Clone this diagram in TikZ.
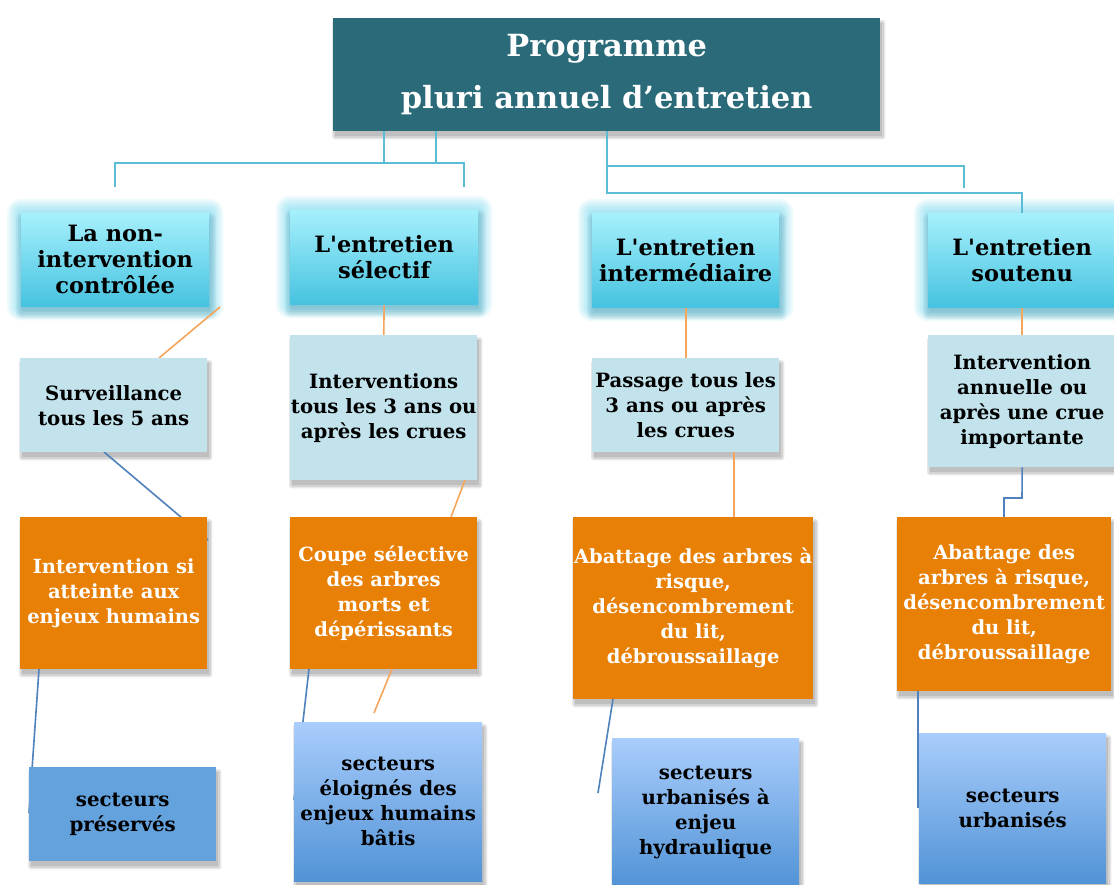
\documentclass[tikz,border=0pt]{standalone}
\usepackage{fontspec}
\setmainfont{DejaVu Serif}[Ligatures=TeXOff]

\definecolor{titleteal}{RGB}{42,106,121}
\definecolor{treeblue}{RGB}{91,188,214}
\definecolor{cyantop}{RGB}{166,240,252}
\definecolor{cyanbot}{RGB}{70,195,224}
\definecolor{glowcyan}{RGB}{110,215,240}
\definecolor{glowshade}{RGB}{60,140,160}
\definecolor{paleblue}{RGB}{194,227,236}
\definecolor{workorange}{RGB}{233,128,6}
\definecolor{linkorange}{RGB}{246,165,92}
\definecolor{linkblue}{RGB}{79,129,189}
\definecolor{zoneflat}{RGB}{100,162,221}
\definecolor{zonetop}{RGB}{169,205,252}
\definecolor{zonebot}{RGB}{81,147,214}

\pgfdeclarelayer{paper}
\pgfdeclarelayer{glow}
\pgfdeclarelayer{shade}
\pgfdeclarelayer{wires}
\pgfsetlayers{paper,glow,shade,wires,main}

\tikzset{
  box/.style={anchor=north west, inner sep=0pt, align=center},
  topbox/.style={box, fill=titleteal, text=white,
      font=\bfseries\fontsize{30.5}{52}\selectfont},
  typebox/.style={box, top color=cyantop, bottom color=cyanbot,
      font=\bfseries\fontsize{22.5}{26}\selectfont},
  freqbox/.style={box, fill=paleblue,
      font=\bfseries\fontsize{19.7}{25}\selectfont},
  workbox/.style={box, fill=workorange, text=white,
      font=\bfseries\fontsize{19.5}{25}\selectfont},
  zonebox/.style={box, top color=zonetop, bottom color=zonebot,
      font=\bfseries\fontsize{19.8}{25}\selectfont},
  tree/.style={draw=treeblue, line width=2pt},
  warm/.style={draw=linkorange, line width=1.6pt},
  cool/.style={draw=linkblue, line width=1.6pt},
}

\begin{document}
\begin{tikzpicture}[x=1pt,y=-1pt]
\useasboundingbox (0,0) rectangle (1114,884);
\begin{pgfonlayer}{paper}
  \fill[white] (0,0) rectangle (1114,884);
\end{pgfonlayer}

% programme heading
\node[topbox, minimum width=547pt, minimum height=113pt] (title) at (333,18)
  {Programme\\pluri annuel d’entretien};

% types of maintenance
\node[typebox, minimum width=188pt, minimum height=93pt] (a1) at (21,213)
  {La non-\\intervention\\contrôlée};
\node[typebox, minimum width=188pt, minimum height=94pt] (b1) at (290,210)
  {L'entretien\\sélectif};
\node[typebox, minimum width=187pt, minimum height=94pt] (c1) at (592,213)
  {L'entretien\\intermédiaire};
\node[typebox, minimum width=188pt, minimum height=94pt] (d1) at (928,213)
  {L'entretien\\soutenu};

% frequency
\node[freqbox, minimum width=187pt, minimum height=94pt] (a2) at (20,358)
  {Surveillance\\tous les 5 ans};
\node[freqbox, minimum width=187pt, minimum height=145pt] (b2) at (290,335)
  {Interventions\\tous les 3 ans ou\\après les crues};
\node[freqbox, minimum width=187pt, minimum height=94pt] (c2) at (592,358)
  {Passage tous les\\3 ans ou après\\les crues};
\node[freqbox, minimum width=188pt, minimum height=132pt] (d2) at (928,335)
  {Intervention\\annuelle ou\\après une crue\\importante};

% works
\node[workbox, minimum width=187pt, minimum height=152pt] (a3) at (20,517)
  {Intervention si\\atteinte aux\\enjeux humains};
\node[workbox, minimum width=187pt, minimum height=152pt] (b3) at (290,517)
  {Coupe sélective\\des arbres\\morts et\\dépérissants};
\node[workbox, minimum width=240pt, minimum height=182pt] (c3) at (573,517)
  {Abattage des arbres à\\risque,\\désencombrement\\du lit,\\débroussaillage};
\node[workbox, minimum width=214pt, minimum height=174pt] (d3) at (897,517)
  {Abattage des\\arbres à risque,\\désencombrement\\du lit,\\débroussaillage};

% sectors
\node[box, fill=zoneflat, minimum width=187pt, minimum height=94pt,
  font=\bfseries\fontsize{19.8}{25}\selectfont] (a4) at (29,767)
  {secteurs\\préservés};
\node[zonebox, minimum width=188pt, minimum height=159pt] (b4) at (294,722)
  {secteurs\\éloignés des\\enjeux humains\\bâtis};
\node[zonebox, minimum width=187pt, minimum height=149pt] (c4) at (612,738)
  {secteurs\\urbanisés à\\enjeu\\hydraulique};
\node[zonebox, minimum width=187pt, minimum height=150pt] (d4) at (919,733)
  {secteurs\\urbanisés};

% halo around the maintenance types, with a darker shade beneath
\begin{pgfonlayer}{glow}
  \foreach \n in {a1,b1,c1,d1}{
    \foreach \r in {2,4,...,14}{
      \fill[glowcyan, opacity=0.11, rounded corners=\r pt]
        ([shift={(-\r,-\r)}]\n.north west) rectangle ([shift={(\r,\r)}]\n.south east);
    }
  }
\end{pgfonlayer}
\begin{pgfonlayer}{shade}
  \foreach \n in {a1,b1,c1,d1}{
    \foreach \r in {0,2,4,6}{
      \fill[glowshade, opacity=0.10, rounded corners=\r pt]
        ([shift={(1-\r,6-\r)}]\n.north west) rectangle ([shift={(1+\r,6+\r)}]\n.south east);
    }
  }
  % soft drop shadows of the other boxes
  \foreach \n in {title,a2,b2,c2,d2,a3,b3,c3,d3,a4,b4,c4,d4}{
    \foreach \r in {0,1.5,3}{
      \fill[black, opacity=0.09, rounded corners=\r pt]
        ([shift={(2-\r,5-\r)}]\n.north west) rectangle ([shift={(2+\r,5+\r)}]\n.south east);
    }
  }
\end{pgfonlayer}

% connectors
\coordinate (s1) at (384,163);
\coordinate (s2) at (436,163);
\coordinate (hl) at (115,163);
\coordinate (hr) at (464,163);
\coordinate (fl) at (115,187);
\coordinate (fr) at (464,187);
\coordinate (r1) at (964,166);
\coordinate (r1e) at (964,188);
\coordinate (rr) at (0,193);

\coordinate (oa1) at (220,307);
\coordinate (oa2) at (159,358);
\coordinate (ba1) at (104,452);
\coordinate (ba2) at (208,540);
\coordinate (ba3) at (39,669);
\coordinate (ba4) at (29,813);
\coordinate (ob1) at (465,480);
\coordinate (ob2) at (451,517);
\coordinate (bb1) at (309,669);
\coordinate (bb2) at (294,800);
\coordinate (ob3) at (392,669);
\coordinate (ob4) at (374,713);
\coordinate (oc2) at (734,452);
\coordinate (bc1) at (613,699);
\coordinate (bc2) at (598,793);
\coordinate (bd1) at (1022,498);
\coordinate (bd2) at (1004,498);
\coordinate (bd3) at (918,691);
\coordinate (bd4) at (918,808);

\begin{pgfonlayer}{wires}
  \draw[tree] (title.south -| s1) -- (s1);
  \draw[tree] (title.south -| s2) -- (s2);
  \draw[tree] (fl) -- (hl) -- (hr) -- (fr);
  \draw[tree] (title.south) |- (r1) -- (r1e);
  \draw[tree] (title.south) |- (d1.north |- rr) -- (d1.north);

  \draw[warm] (oa1) -- (oa2);
  \draw[cool] (ba1) -- (ba2);
  \draw[cool] (ba3) -- (ba4);

  \draw[warm] (b1.south) -- (b2.north);
  \draw[warm] (ob1) -- (ob2);
  \draw[cool] (bb1) -- (bb2);
  \draw[warm] (ob3) -- (ob4);

  \draw[warm] (c1.south) -- (c2.north -| c1.south);
  \draw[warm] (oc2) -- (c3.north -| oc2);
  \draw[cool] (bc1) -- (bc2);

  \draw[warm] (d1.south) -- (d2.north);
  \draw[cool] (d2.south) -- (bd1) -- (bd2) -- (d3.north -| bd2);
  \draw[cool] (bd3) -- (bd4);
\end{pgfonlayer}
\end{tikzpicture}
\end{document}
